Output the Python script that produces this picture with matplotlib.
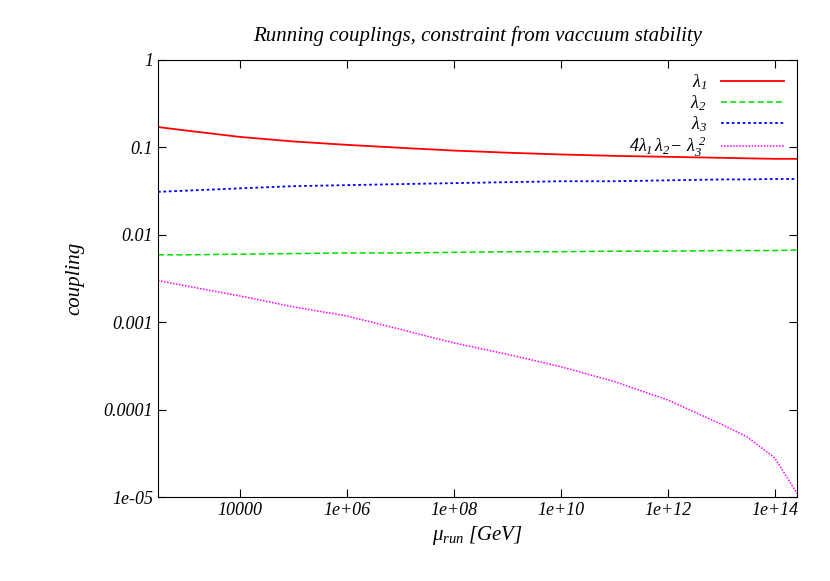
import numpy as np
import matplotlib
matplotlib.use("Agg")
import matplotlib.pyplot as plt
from matplotlib.ticker import FixedLocator, NullLocator

mu = [300, 1e3, 1e4, 1e5, 1e6, 1e7, 1e8, 1e9, 1e10, 1e11, 1e12, 1e13, 3e13, 1e14, 2.6e14]
lam1 = [0.171, 0.156, 0.132, 0.117, 0.107, 0.099, 0.092, 0.087, 0.083, 0.080, 0.078, 0.076, 0.075, 0.074, 0.074]
lam2 = [0.0059, 0.0059, 0.0060, 0.0061, 0.0062, 0.0062, 0.0063, 0.0064, 0.0064, 0.0065, 0.0065, 0.0066, 0.0066, 0.0066, 0.0067]
lam3 = [0.031, 0.032, 0.034, 0.036, 0.037, 0.038, 0.039, 0.040, 0.041, 0.041, 0.042, 0.043, 0.043, 0.0435, 0.0435]
combo = [0.0030, 0.0026, 0.0020, 0.0015, 0.00118, 0.00083, 0.00058, 0.00043, 0.00031, 0.00021, 0.000129, 6.8e-5, 4.9e-5, 2.8e-5, 1.1e-5]

xticks = [1e4, 1e6, 1e8, 1e10, 1e12, 1e14]
xlabels = ["10000", "1e+06", "1e+08", "1e+10", "1e+12", "1e+14"]
yticks = [1e-5, 1e-4, 1e-3, 1e-2, 1e-1, 1]
ylabels = ["1e-05", "0.0001", "0.001", "0.01", "0.1", "1"]

plt.rcParams["font.family"] = "Liberation Serif"
plt.rcParams["font.style"] = "italic"
plt.rcParams["mathtext.fontset"] = "custom"
plt.rcParams["mathtext.rm"] = "Liberation Serif:italic"
plt.rcParams["mathtext.it"] = "Liberation Serif:italic"

fig = plt.figure(figsize=(8.30, 5.81), dpi=100)
ax = fig.add_axes([158/830, 1-497/581, (797-158)/830, (497-60)/581])
ax.plot(mu, lam1, color="#ff0000", lw=1.3, label=r"$\lambda_1$")
ax.plot(mu, lam2, color="#00dd00", lw=1.1, ls=(0, (4, 2)), label=r"$\lambda_2$")
ax.plot(mu, lam3, color="#0000ff", lw=1.3, ls=(0, (1.5, 1.5)), label=r"$\lambda_3$")
ax.plot(mu, combo, color="#ff00ff", lw=1.1, ls=(0, (1, 1)), label=r"$4\lambda_1\,\lambda_2\!-\,\lambda_3^{\ 2}$")
ax.set_xscale("log"); ax.set_yscale("log")
ax.set_xlim(300, 2.6e14); ax.set_ylim(1e-5, 1)
ax.xaxis.set_major_locator(FixedLocator(xticks)); ax.set_xticklabels(xlabels)
ax.yaxis.set_major_locator(FixedLocator(yticks)); ax.set_yticklabels(ylabels)
ax.xaxis.set_minor_locator(NullLocator()); ax.yaxis.set_minor_locator(NullLocator())
ax.tick_params(direction="in", top=True, right=True, length=6, labelsize=13)
ax.set_xlabel(r"$\mu_{run}$ [GeV]", fontsize=15)
ax.set_ylabel("coupling", fontsize=15, labelpad=14)
ax.set_title("Running couplings, constraint from vaccuum stability", fontsize=15, pad=14, x=0.5)
leg = ax.legend(loc="upper right", frameon=False, fontsize=13, markerfirst=False,
                handlelength=3.5, labelspacing=0.05, borderaxespad=0.3)
for t in leg.get_texts():
    t.set_ha("right")
fig.savefig("out.png", dpi=100)
